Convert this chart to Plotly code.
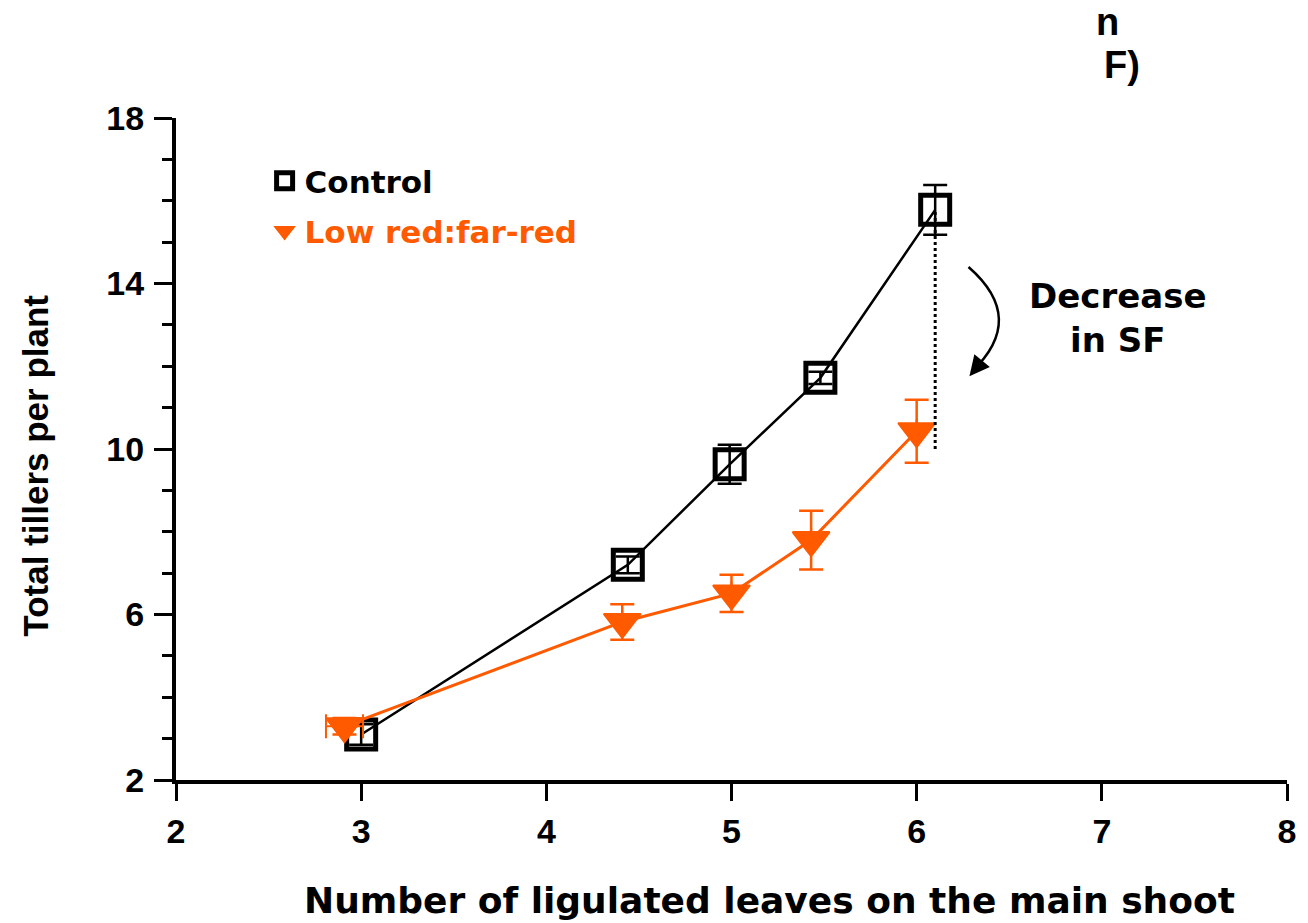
import plotly.graph_objects as go

# ---- data ----
ctrl_x = [3.0, 4.44, 4.99, 5.48, 6.1]
ctrl_y = [3.1, 7.2, 9.63, 11.72, 15.78]
ctrl_err = [0.25, 0.2, 0.47, 0.15, 0.6]

lrfr_x = [2.91, 4.41, 5.0, 5.43, 6.0]
lrfr_y = [3.3, 5.82, 6.51, 7.8, 10.43]
lrfr_err = [0.2, 0.43, 0.45, 0.71, 0.76]
lrfr_xerr = [0.1, 0, 0, 0, 0]

sf_low = 10.0  # bottom of the dotted "decrease" line

x_ticks = [2, 3, 4, 5, 6, 7, 8]
y_ticks = [2, 6, 10, 14, 18]

ORANGE = "#ff5a00"
TXT = "DejaVu Sans"
ARIAL = "Liberation Sans, Arial"

fig = go.Figure()

fig.add_trace(go.Scatter(
    x=ctrl_x, y=ctrl_y, mode="lines+markers", showlegend=False,
    line=dict(color="black", width=2.5),
    marker=dict(symbol="square-open", size=29, color="black", line=dict(width=5, color="black")),
    error_y=dict(type="data", array=ctrl_err, color="black", thickness=2.5, width=12),
))
fig.add_trace(go.Scatter(
    x=lrfr_x, y=lrfr_y, mode="lines+markers", showlegend=False,
    line=dict(color=ORANGE, width=3),
    marker=dict(symbol="triangle-down", size=32, color=ORANGE, line=dict(width=2, color=ORANGE)),
    error_y=dict(type="data", array=lrfr_err, color=ORANGE, thickness=2.5, width=12),
    error_x=dict(type="data", array=lrfr_xerr, color=ORANGE, thickness=2, width=12),
))

# legend entries (markers only)
fig.add_trace(go.Scatter(
    x=[None], y=[None], mode="markers", name="Control", legendgroup="c",
    marker=dict(symbol="square-open", size=20, color="black", line=dict(width=5, color="black")),
))
fig.add_trace(go.Scatter(
    x=[None], y=[None], mode="markers", legendgroup="l",
    name="<span style='color:%s'>Low red:far-red</span>" % ORANGE,
    marker=dict(symbol="triangle-down", size=24, color=ORANGE, line=dict(width=2, color=ORANGE)),
))

# dotted line showing decrease
fig.add_shape(type="line", xref="x", yref="y",
              x0=ctrl_x[-1], x1=ctrl_x[-1], y0=sf_low, y1=ctrl_y[-1],
              line=dict(color="black", width=3, dash="dot"))

# curved arrow
fig.add_shape(type="path", xref="x", yref="y",
              path="M 6.28,14.4 Q 6.6,13.15 6.296,11.86",
              line=dict(color="black", width=2.5))
fig.add_annotation(x=6.285, y=11.76, xref="x", yref="y", text="", showarrow=True,
                   ax=9, ay=-11, arrowhead=2, arrowsize=1.6, arrowwidth=2.5,
                   arrowcolor="black", standoff=0)

fig.add_annotation(x=(1122 - 176) / 1116, y=(780 - 318) / 662, xref="paper", yref="paper",
                   text="Decrease<br>in SF", showarrow=False, align="center",
                   xanchor="center", yanchor="middle",
                   font=dict(family=TXT, size=34, color="black", weight="bold"))

# partial title fragments top-right
fig.add_annotation(x=(1112 - 176) / 1116, y=(780 - 22) / 662, xref="paper", yref="paper",
                   text="n", showarrow=False, xanchor="center", yanchor="middle",
                   font=dict(family=ARIAL, size=38, color="black", weight="bold"))
fig.add_annotation(x=(1106 - 176) / 1116, y=(780 - 65) / 662, xref="paper", yref="paper",
                   text="F)", showarrow=False, xanchor="left", yanchor="middle",
                   font=dict(family=ARIAL, size=38, color="black", weight="bold"))

# axis titles
fig.add_annotation(x=(772 - 176) / 1116, y=(780 - 900) / 662, xref="paper", yref="paper",
                   text="Number of ligulated leaves on the main shoot", showarrow=False,
                   xanchor="center", yanchor="middle",
                   font=dict(family=TXT, size=36, color="black", weight="bold"))
fig.add_annotation(x=(34 - 176) / 1116, y=(780 - 466) / 662, xref="paper", yref="paper",
                   text="Total tillers per plant", showarrow=False, textangle=-90,
                   xanchor="center", yanchor="middle",
                   font=dict(family=ARIAL, size=35, color="black", weight="bold"))

fig.update_layout(
    width=1308, height=923,
    margin=dict(l=176, r=16, t=118, b=143),
    paper_bgcolor="white", plot_bgcolor="white",
    showlegend=True,
    legend=dict(x=(265 - 176) / 1116, y=(780 - 154) / 662, xanchor="left", yanchor="top",
                bgcolor="rgba(0,0,0,0)", tracegroupgap=7, itemsizing="trace",
                font=dict(family=TXT, size=31, color="black", weight="bold")),
)
fig.update_xaxes(range=[2, 8], tickvals=x_ticks, ticktext=[str(v) for v in x_ticks],
                 showline=True, linecolor="black", linewidth=4,
                 ticks="outside", ticklen=17, tickwidth=3, tickcolor="black",
                 showgrid=False, zeroline=False, ticklabelstandoff=1,
                 tickfont=dict(family=ARIAL, size=34, color="black", weight="bold"))
fig.update_yaxes(range=[2, 18], tickvals=y_ticks, ticktext=[str(v) for v in y_ticks],
                 showline=True, linecolor="black", linewidth=4,
                 ticks="outside", ticklen=18, tickwidth=3, tickcolor="black",
                 minor=dict(dtick=1, tick0=2, ticks="outside", ticklen=10, tickwidth=3,
                            tickcolor="black", showgrid=False),
                 showgrid=False, zeroline=False, ticklabelstandoff=3,
                 tickfont=dict(family=ARIAL, size=34, color="black", weight="bold"))

fig.write_html("out.html")
